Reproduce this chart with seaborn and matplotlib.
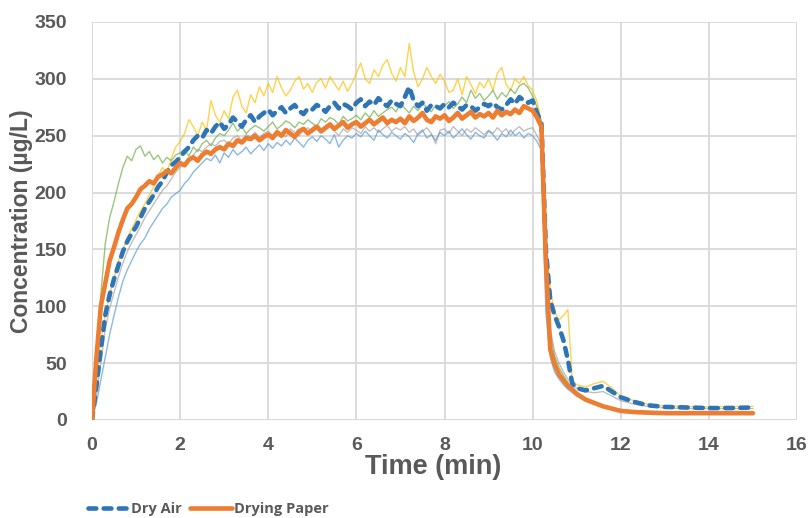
import numpy as np
import pandas as pd
import matplotlib
matplotlib.use("Agg")
import matplotlib.pyplot as plt
import seaborn as sns

# sampling times (min): every 0.1 min up to 10.2, then the decay tail
time_main = np.round(np.arange(0, 10.25, 0.1), 1)
time_tail = [10.3, 10.4, 10.5, 10.6, 10.7, 10.8, 10.9, 11.0, 11.2, 11.4,
             11.6, 11.8, 12.0, 12.3, 12.6, 13.0, 13.5, 14.0, 14.5, 15.0]
time = np.concatenate([time_main, time_tail])

# thick lines (legend)
dry_air = [
    0, 30, 62, 92, 110, 124, 136, 148, 157, 164,
    170, 178, 186, 192, 198, 205, 210, 218, 224, 227,
    231, 236, 240, 246, 250, 248, 255, 252, 258, 262,
    256, 260, 266, 262, 258, 264, 268, 262, 267, 270,
    273, 268, 272, 275, 270, 274, 277, 272, 269, 274,
    273, 277, 275, 271, 276, 279, 274, 278, 276, 273,
    279, 282, 276, 280, 277, 283, 279, 276, 281, 278,
    276, 284, 293, 281, 276, 279, 272, 277, 276, 274,
    278, 275, 279, 276, 273, 277, 276, 272, 275, 278,
    276, 279, 275, 273, 277, 282, 278, 284, 281, 279,
    281, 270, 261,
    150, 105, 92, 82, 70, 53, 32, 28, 26, 28,
    30, 25, 20, 16, 13, 11.5, 11, 10.5, 10.5, 11,
]
drying_paper = [
    0, 55, 100, 120, 140, 152, 165, 176, 186, 190,
    196, 203, 206, 210, 208, 214, 216, 219, 217, 222,
    226, 224, 229, 231, 228, 233, 236, 234, 238, 240,
    238, 243, 241, 246, 244, 248, 247, 250, 246, 249,
    251, 248, 253, 250, 255, 252, 249, 254, 256, 252,
    255, 258, 254, 257, 260, 256, 259, 262, 257, 260,
    262, 258, 261, 264, 260, 263, 266, 261, 264, 262,
    265, 261, 267, 263, 266, 270, 264, 262, 267, 265,
    268, 263, 266, 270, 265, 268, 271, 266, 269, 267,
    270, 266, 272, 268, 271, 269, 273, 270, 276, 274,
    272, 266, 258,
    140, 62, 49, 40, 35, 30, 27, 23, 18, 15,
    12, 10, 8, 7, 6.5, 6, 6, 6, 6, 6,
]

# thin lines (individual runs, not in legend)
run_yellow = [
    0, 35, 70, 92, 110, 125, 140, 150, 160, 168,
    176, 184, 190, 198, 205, 215, 222, 218, 230, 240,
    245, 252, 264, 258, 250, 262, 255, 281, 268, 262,
    272, 265, 284, 290, 276, 270, 286, 279, 293, 285,
    296, 288, 302, 292, 285, 290, 298, 302, 291, 296,
    288, 297, 300, 292, 302, 296, 290, 298, 289, 296,
    305, 314, 300, 296, 308, 302, 312, 317, 305, 298,
    310, 302, 331, 306, 293, 300, 310, 302, 296, 304,
    298, 288, 290, 300, 286, 302, 295, 287, 297, 292,
    300, 290, 305, 310, 295, 290, 300, 296, 302, 294,
    290, 280, 262,
    160, 115, 95, 88, 92, 97, 35, 31, 29, 32,
    34, 28, 21, 17, 14, 12.5, 12, 11.5, 12, 12,
]
run_green = [
    0, 55, 110, 155, 178, 192, 208, 222, 232, 228,
    238, 241, 232, 236, 229, 233, 226, 231, 228, 233,
    235, 238, 232, 240, 236, 243, 246, 241, 248, 252,
    250, 255, 261, 254, 258, 252, 256, 259, 257, 254,
    258, 262, 256, 259, 263, 261, 257, 262, 260, 264,
    261, 258, 265, 262, 266, 264, 260, 267, 263, 265,
    268, 264, 270, 266, 272, 267, 270, 273, 275, 271,
    279, 274, 270, 276, 272, 278, 275, 271, 277, 274,
    276, 280, 274, 278, 284, 279, 290, 283, 287, 281,
    285, 290, 282, 288, 284, 291, 287, 294, 296, 292,
    285, 275, 262,
    140, 75, 56, 46, 39, 33, 28, 24, 19, 15,
    13, 11, 9, 8, 7.5, 7, 7, 7, 7, 7,
]
run_lightblue = [
    0, 15, 35, 55, 75, 92, 108, 122, 132, 140,
    148, 155, 160, 168, 174, 180, 186, 190, 196, 199,
    202, 208, 212, 218, 222, 226, 230, 228, 233, 226,
    235, 231, 238, 233, 236, 240, 234, 238, 242, 237,
    243, 239, 244, 241, 246, 242, 248, 244, 240, 246,
    249, 245, 250, 247, 243, 251, 240, 246, 250, 248,
    252, 249, 254, 250, 246, 255, 251, 248, 253, 250,
    247, 252, 249, 244, 252, 255, 248, 251, 246, 253,
    250, 254, 248, 252, 256, 251, 247, 253, 250, 248,
    254, 251, 246, 252, 249, 255, 250, 253, 248, 252,
    250, 245, 237,
    95, 55, 42, 36, 31, 27, 24, 21, 17, 14,
    12, 10, 8, 7, 6.5, 6, 6, 6, 6, 6,
]
run_gray = [
    0, 22, 50, 80, 98, 112, 126, 138, 148, 156,
    163, 170, 178, 184, 190, 196, 202, 206, 212, 218,
    222, 226, 230, 233, 238, 236, 240, 243, 241, 245,
    246, 243, 248, 250, 246, 251, 249, 253, 248, 252,
    254, 250, 255, 252, 249, 256, 253, 250, 255, 257,
    253, 256, 252, 255, 258, 254, 250, 256, 253, 257,
    255, 252, 258, 254, 257, 253, 256, 259, 254, 257,
    255, 258, 253, 256, 250, 254, 257, 252, 243, 255,
    256, 252, 258, 254, 250, 256, 253, 257, 254, 251,
    255, 252, 257, 253, 256, 250, 255, 258, 254, 256,
    257, 250, 242,
    130, 80, 60, 50, 42, 36, 31, 28, 25, 24,
    25, 21, 17, 14, 12, 10.5, 10, 10, 10, 10,
]

sns.set_style("whitegrid")
plt.rcParams["font.family"] = ["Liberation Sans", "DejaVu Sans"]

fig = plt.figure(figsize=(8.09, 5.18), dpi=100)
ax = fig.add_axes([92 / 809, 1 - 420 / 518, 705 / 809, 398 / 518])

thin = [(run_yellow, "#FFC000"), (run_green, "#70AD47"),
        (run_gray, "#A5A5A5"), (run_lightblue, "#5B9BD5")]
for vals, col in thin:
    sns.lineplot(x=time, y=vals, ax=ax, color=col, lw=1.0, alpha=0.7)

sns.lineplot(x=time, y=dry_air, ax=ax, color="#2E75B6", lw=3.3,
             linestyle=(0, (1.7, 1.6)), dash_capstyle="round",
             label="Dry Air")
sns.lineplot(x=time, y=drying_paper, ax=ax, color="#ED7D31", lw=3.3,
             label="Drying Paper")

ax.set_xlim(0, 16)
ax.set_ylim(0, 350)
ax.set_xticks(range(0, 17, 2))
ax.set_yticks(range(0, 351, 50))
ax.grid(color="#D9D9D9", lw=1.3)
for s in ax.spines.values():
    s.set_visible(False)
ax.axhline(0, color="#D9D9D9", lw=1.5, zorder=0)

txt = "#595959"
ax.tick_params(axis="both", length=0, labelsize=14, labelcolor=txt)
ax.tick_params(axis="y", pad=18)
ax.tick_params(axis="x", pad=12)
for lab in ax.get_xticklabels() + ax.get_yticklabels():
    lab.set_fontweight("bold")
ax.set_xlabel("Time (min)", fontsize=19.5, fontweight="bold", color=txt, labelpad=0)
ax.xaxis.label.set_x(0.484)
ax.set_ylabel("Concentration (µg/L)", fontsize=16.5, fontweight="bold", color=txt, labelpad=1)

handles, labels = ax.get_legend_handles_labels()
ax.legend_.remove()
fig.legend(handles, labels, loc="center left", bbox_to_anchor=(0.092, 0.018),
           ncol=2, frameon=False, handlelength=2.9, handletextpad=0.1,
           columnspacing=0.55,
           prop={"family": ["Open Sans", "DejaVu Sans"], "weight": "bold", "size": 10.5},
           labelcolor=txt)

fig.savefig("out.png", dpi=100)
